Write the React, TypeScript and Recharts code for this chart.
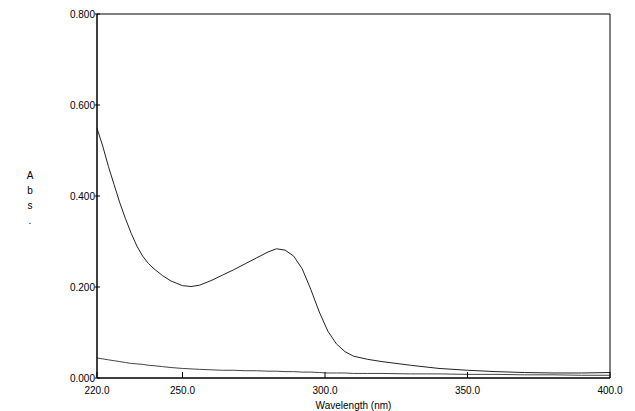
import React from 'react';
import { LineChart, Line, XAxis, YAxis, ReferenceArea } from 'recharts';

// wavelength grid (nm) shared by both scans
const wavelengths = [
  220, 222, 224, 226, 228, 230, 232, 234, 236, 238, 240, 243, 246, 250, 253, 256, 260, 264, 268, 272,
  276, 280, 283, 286, 289, 292, 295, 298, 301, 304, 307, 310, 315, 320, 330, 340, 350, 360, 370, 380, 390, 400,
];

const sampleAbs = [
  0.549, 0.51, 0.465, 0.425, 0.385, 0.35, 0.318, 0.29, 0.268, 0.252, 0.24, 0.225, 0.213, 0.203, 0.201, 0.204,
  0.214, 0.226, 0.238, 0.251, 0.264, 0.277, 0.284, 0.281, 0.268, 0.24, 0.195, 0.145, 0.103, 0.075, 0.058, 0.048,
  0.041, 0.036, 0.028, 0.021, 0.017, 0.014, 0.012, 0.011, 0.011, 0.012,
];

const blankAbs = [
  0.044, 0.042, 0.04, 0.038, 0.036, 0.034, 0.032, 0.031, 0.03, 0.028, 0.027, 0.025, 0.023, 0.021, 0.02, 0.019,
  0.018, 0.017, 0.017, 0.016, 0.016, 0.015, 0.015, 0.014, 0.014, 0.013, 0.013, 0.012, 0.011, 0.011, 0.011, 0.01,
  0.01, 0.01, 0.009, 0.009, 0.008, 0.008, 0.007, 0.007, 0.006, 0.006,
];

const xTicks = [220, 250, 300, 350, 400];
const yTicks = [0, 0.2, 0.4, 0.6, 0.8];

const data = wavelengths.map((w, i) => ({ w, sample: sampleAbs[i], blank: blankAbs[i] }));

const font = 'Arial, "Liberation Sans", sans-serif';

const XTick = (props: any) => {
  const { x, y, payload } = props;
  return (
    <g>
      <line x1={x} y1={y} x2={x} y2={y - 6} stroke="#000" />
      <text x={x} y={y + 16} textAnchor="middle" fontSize={10} fontFamily={font} fill="#000">
        {Number(payload.value).toFixed(1)}
      </text>
    </g>
  );
};

const YTick = (props: any) => {
  const { x, y, payload } = props;
  return (
    <g>
      <line x1={x - 2} y1={y} x2={x + 3} y2={y} stroke="#000" />
      <text x={x - 2} y={y + 4} textAnchor="end" fontSize={10} fontFamily={font} fill="#000">
        {Number(payload.value).toFixed(3)}
      </text>
    </g>
  );
};

const AbsLabel = () => (
  <text x={30} fontSize={10} fontFamily={font} fill="#000" textAnchor="middle">
    <tspan x={30} y={179}>A</tspan>
    <tspan x={30} y={194}>b</tspan>
    <tspan x={30} y={209}>s</tspan>
    <tspan x={30} y={224}>.</tspan>
  </text>
);

export default function App() {
  return (
    <div style={{ position: 'absolute', left: 0, top: 0, background: '#fff' }}>
      <LineChart width={635} height={411} data={data} margin={{ top: 14, right: 25, left: 0, bottom: 0 }}>
        <XAxis
          dataKey="w"
          type="number"
          domain={[220, 400]}
          ticks={xTicks}
          tickSize={0}
          tickMargin={0}
          tickLine={false}
          tick={<XTick />}
          height={33}
          axisLine={{ stroke: '#000' }}
          label={{
            value: 'Wavelength (nm)',
            position: 'insideBottom',
            offset: 2,
            fontSize: 10,
            fontFamily: font,
            fill: '#000',
          }}
        />
        <YAxis
          type="number"
          domain={[0, 0.8]}
          ticks={yTicks}
          tickSize={0}
          tickMargin={0}
          tickLine={false}
          tick={<YTick />}
          width={97}
          axisLine={{ stroke: '#000' }}
          label={{ content: <AbsLabel /> }}
        />
        <ReferenceArea x1={220} x2={400} y1={0} y2={0.8} fill="none" stroke="#000" strokeWidth={1} />
        <Line dataKey="sample" type="linear" stroke="#222" strokeWidth={1} dot={false} isAnimationActive={false} />
        <Line dataKey="blank" type="linear" stroke="#444" strokeWidth={1} dot={false} isAnimationActive={false} />
      </LineChart>
    </div>
  );
}
